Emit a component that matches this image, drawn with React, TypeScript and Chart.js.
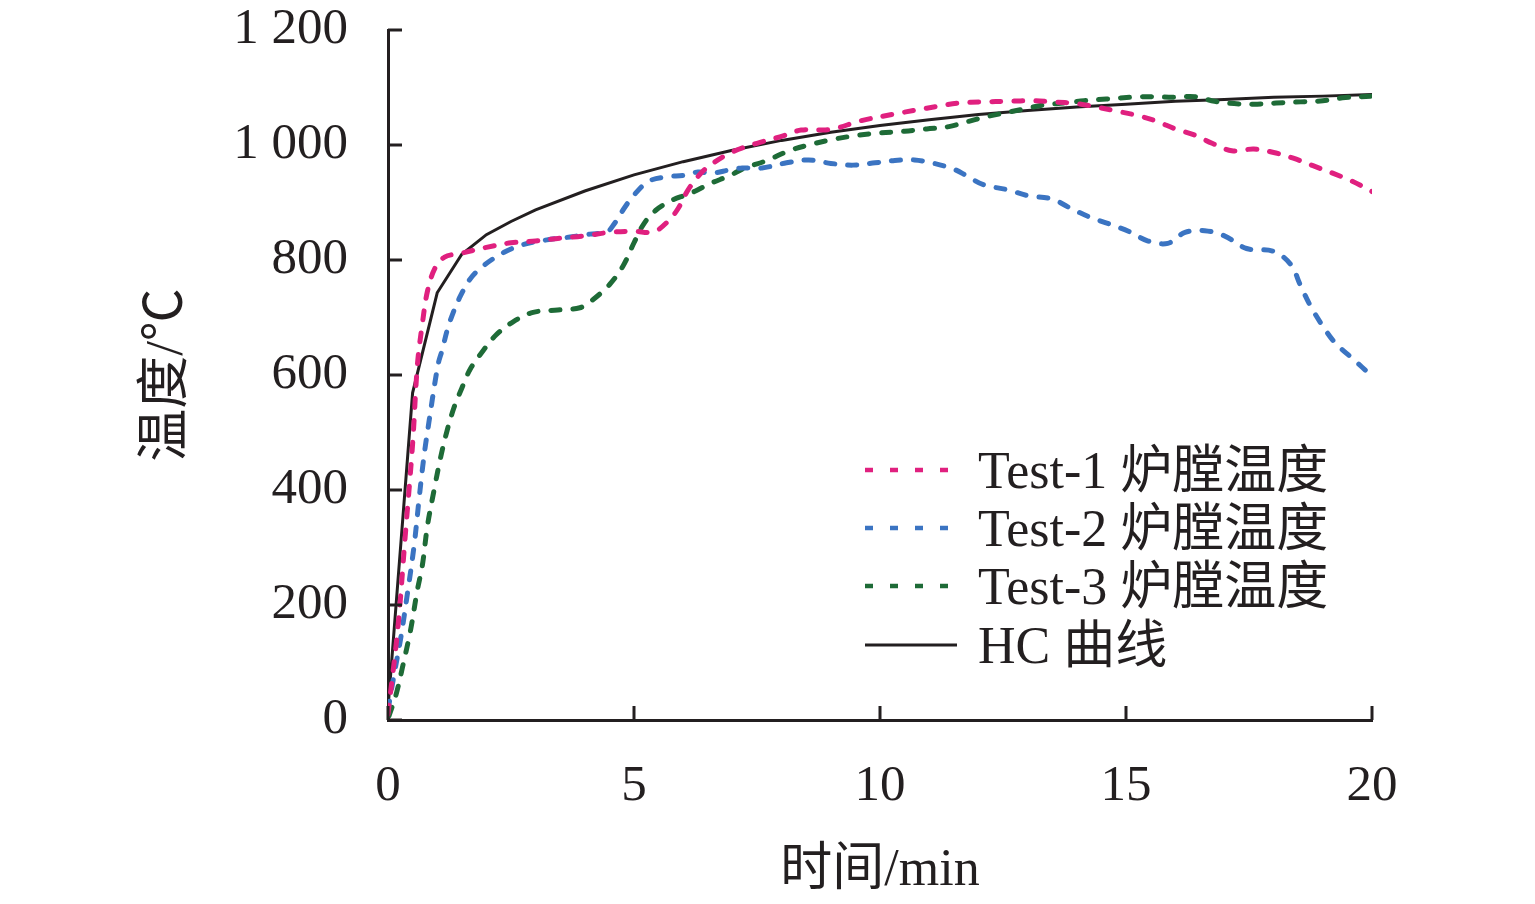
import { Chart, registerables, Plugin } from "chart.js";
import { useEffect, useRef } from "react";

Chart.register(...registerables);

// time (min) / temperature (°C)
const test1Time = [0, 0.2, 0.35, 0.5, 0.6, 0.7, 0.8, 0.95, 1.15, 1.5, 2, 2.5, 3, 3.5, 4, 4.5, 5, 5.4, 5.7, 5.9, 6.1, 6.35, 6.6, 7, 7.5, 8, 8.4, 9, 9.6, 10.3, 10.75, 11.15, 11.6, 12.1, 12.6, 13.1, 13.5, 14, 14.4, 14.8, 15.2, 15.6, 16, 16.4, 16.75, 17.15, 17.6, 18, 18.4, 18.8, 19.2, 19.6, 20];
const test1Temp = [10, 160, 320, 480, 620, 690, 745, 785, 805, 812, 822, 830, 833, 838, 842, 848, 850, 849, 868, 890, 922, 950, 968, 988, 1003, 1015, 1026, 1027, 1042, 1054, 1061, 1067, 1073, 1075, 1076, 1077, 1075, 1072, 1066, 1059, 1052, 1042, 1028, 1017, 1003, 990, 993, 987, 977, 964, 951, 937, 919];

const test2Time = [0, 0.12, 0.26, 0.4, 0.53, 0.63, 0.7, 0.76, 0.83, 0.9, 0.96, 1.03, 1.1, 1.2, 1.3, 1.47, 1.67, 1.94, 2.35, 2.75, 3.23, 3.7, 4.1, 4.45, 4.6, 4.8, 5, 5.3, 5.7, 6, 6.3, 6.6, 6.95, 7.2, 7.6, 8.1, 8.55, 9, 9.45, 9.9, 10.3, 10.7, 11.1, 11.5, 11.75, 12.1, 12.6, 13, 13.5, 13.85, 14.25, 14.65, 15.05, 15.45, 15.85, 16.2, 16.6, 17, 17.45, 18, 18.35, 18.55, 18.75, 19, 19.25, 19.6, 20];
const test2Temp = [17, 77, 143, 223, 303, 383, 437, 477, 517, 557, 590, 623, 643, 677, 703, 737, 767, 790, 813, 827, 835, 840, 845, 849, 863, 890, 913, 937, 945, 947, 953, 951, 957, 960, 960, 969, 974, 968, 965, 969, 973, 974, 968, 958, 947, 931, 922, 912, 906, 891, 875, 863, 850, 833, 829, 848, 851, 842, 820, 815, 792, 755, 720, 685, 656, 629, 598];

const test3Time = [0.02, 0.16, 0.29, 0.46, 0.59, 0.7, 0.8, 0.93, 1.07, 1.2, 1.34, 1.5, 1.67, 1.94, 2.2, 2.55, 2.95, 3.45, 3.9, 4.15, 4.5, 4.78, 5, 5.2, 5.45, 5.8, 6.05, 6.25, 6.55, 6.95, 7.25, 7.7, 8.15, 8.55, 9, 9.55, 10, 10.5, 10.95, 11.4, 11.75, 12.15, 12.55, 12.95, 13.35, 13.75, 14.15, 14.6, 15.1, 15.5, 15.95, 16.4, 16.8, 17.2, 17.6, 18.05, 18.55, 19, 19.4, 20];
const test3Temp = [7, 43, 90, 157, 223, 270, 337, 397, 457, 503, 543, 577, 610, 643, 670, 693, 709, 713, 717, 730, 757, 790, 830, 863, 887, 905, 913, 920, 933, 947, 960, 973, 990, 1000, 1009, 1017, 1021, 1024, 1028, 1032, 1040, 1049, 1056, 1063, 1070, 1073, 1077, 1080, 1083, 1084, 1083, 1084, 1076, 1072, 1071, 1073, 1075, 1077, 1082, 1085];

const hcTime = [0, 0.5, 1, 1.5, 2, 2.5, 3, 4, 5, 6, 7, 8, 9, 10, 11, 12, 13, 14, 15, 16, 17, 18, 19, 20];
const hcTemp = [20, 569, 743, 810, 844, 867, 887, 920, 948, 971, 991, 1008, 1022, 1034, 1044, 1053, 1060, 1066, 1071, 1076, 1079, 1083, 1085, 1088];

const seriesNames = ["Test-1 炉膛温度", "Test-2 炉膛温度", "Test-3 炉膛温度", "HC 曲线"];
const seriesColors = ["#e0207f", "#3b74c2", "#1e6b37", "#231f20"];

const xTitle = "时间/min";
const yTitle = "温度/℃";

const FONT = "'Liberation Serif', 'Times New Roman', 'Noto Sans CJK SC', serif";
const INK = "#231f20";

const toPoints = (t: number[], v: number[]) => t.map((x, i) => ({ x, y: v[i] }));

// short tick marks pointing into the plot area
const innerTicks: Plugin = {
  id: "innerTicks",
  afterDraw(chart) {
    const { ctx, chartArea, scales } = chart;
    ctx.save();
    ctx.strokeStyle = INK;
    ctx.lineWidth = 3;
    scales.y.ticks.forEach((t) => {
      const y = scales.y.getPixelForValue(t.value);
      ctx.beginPath();
      ctx.moveTo(chartArea.left, y);
      ctx.lineTo(chartArea.left + 14, y);
      ctx.stroke();
    });
    scales.x.ticks.forEach((t) => {
      const x = scales.x.getPixelForValue(t.value);
      ctx.beginPath();
      ctx.moveTo(x, chartArea.bottom);
      ctx.lineTo(x, chartArea.bottom - 14);
      ctx.stroke();
    });
    ctx.restore();
  },
};

const Legend = () => (
  <div style={{ position: "absolute", left: 0, top: 0, pointerEvents: "none" }}>
    {seriesNames.map((name, i) => {
      const cy = [470, 528, 586, 645][i];
      return (
        <div key={name}>
          <svg
            width={100}
            height={10}
            style={{ position: "absolute", left: 860, top: cy - 5 }}
          >
            <line
              x1={5}
              y1={5}
              x2={i === 3 ? 97 : 89}
              y2={5}
              stroke={seriesColors[i]}
              strokeWidth={i === 3 ? 3 : 4.5}
              strokeDasharray={i === 3 ? undefined : "8 17"}
            />
          </svg>
          <div
            style={{
              position: "absolute",
              left: 978,
              top: cy - 29,
              height: 60,
              lineHeight: "60px",
              whiteSpace: "nowrap",
              fontFamily: FONT,
              fontSize: 52,
              color: INK,
            }}
          >
            {name}
          </div>
        </div>
      );
    })}
  </div>
);

const App = () => {
  const canvasRef = useRef<HTMLCanvasElement>(null);

  useEffect(() => {
    if (!canvasRef.current) return;
    const tests = [
      toPoints(test1Time, test1Temp),
      toPoints(test2Time, test2Temp),
      toPoints(test3Time, test3Temp),
    ];
    const chart = new Chart(canvasRef.current, {
      type: "line",
      data: {
        datasets: [
          ...tests.map((pts, i) => ({
            label: seriesNames[i],
            data: pts,
            borderColor: seriesColors[i],
            borderWidth: 5,
            borderDash: [9, 13],
            borderCapStyle: "round" as const,
            pointRadius: 0,
            tension: 0.35,
            fill: false,
          })),
          {
            label: seriesNames[3],
            data: toPoints(hcTime, hcTemp),
            borderColor: seriesColors[3],
            borderWidth: 3,
            pointRadius: 0,
            tension: 0,
            fill: false,
          },
        ],
      },
      options: {
        animation: false,
        responsive: true,
        maintainAspectRatio: false,
        layout: { padding: { top: 30, right: 163, left: 0, bottom: 0 } },
        plugins: {
          legend: { display: false },
          tooltip: { enabled: false },
        },
        scales: {
          x: {
            type: "linear",
            min: 0,
            max: 20,
            grid: { display: false, drawTicks: false },
            border: { display: true, color: INK, width: 3 },
            ticks: {
              stepSize: 5,
              padding: 36,
              color: INK,
              font: { family: FONT, size: 51 },
              maxRotation: 0,
            },
            title: {
              display: true,
              text: xTitle,
              color: INK,
              font: { family: FONT, size: 52 },
              padding: { top: 0, bottom: 1 },
            },
            afterFit: (scale) => {
              scale.height = 184;
              scale.paddingLeft = 0;
              scale.paddingRight = 0;
            },
          },
          y: {
            min: 0,
            max: 1200,
            grid: { display: false, drawTicks: false },
            border: { display: true, color: INK, width: 3 },
            ticks: {
              stepSize: 200,
              padding: 40,
              color: INK,
              font: { family: FONT, size: 51 },
              callback: (v) => {
                const n = Number(v);
                return n >= 1000 ? `${Math.floor(n / 1000)} ${String(n % 1000).padStart(3, "0")}` : String(n);
              },
            },
            title: {
              display: true,
              text: yTitle,
              color: INK,
              font: { family: FONT, size: 53 },
              padding: { top: 136, bottom: 0 },
            },
            afterFit: (scale) => {
              scale.width = 388;
              scale.paddingTop = 0;
              scale.paddingBottom = 0;
            },
          },
        },
      },
      plugins: [innerTicks],
    });
    return () => chart.destroy();
  }, []);

  return (
    <div style={{ position: "absolute", left: 0, top: 0, width: 1535, height: 904, background: "#fff" }}>
      <canvas ref={canvasRef} />
      <Legend />
    </div>
  );
};

export default App;
